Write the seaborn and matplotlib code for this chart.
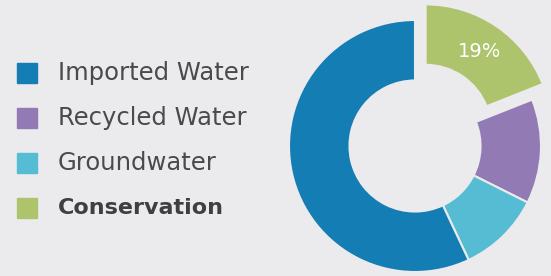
import matplotlib
matplotlib.use("Agg")
import matplotlib.pyplot as plt
import seaborn as sns
import numpy as np
from matplotlib.patches import Rectangle

categories = ["Conservation", "Recycled Water", "Groundwater", "Imported Water"]
values = [19, 13.4, 10.6, 57]
colors = ["#adc46c", "#927bb4", "#56bcd4", "#137db4"]
legend_order = ["Imported Water", "Recycled Water", "Groundwater", "Conservation"]
labeled = "Conservation"

bg = "#ebebed"
sns.set_theme(style="white")
plt.rcParams["font.family"] = ["DejaVu Sans"]

fig = plt.figure(figsize=(5.51, 2.76), dpi=100, facecolor=bg)
ax = fig.add_axes([289/551, 4/276, 252/551, 252/276])
ax.set_facecolor(bg)

explode = [0.15 if c == labeled else 0 for c in categories]
wedges, texts = ax.pie(
    values, colors=colors, startangle=90, counterclock=False,
    explode=explode, radius=1.0,
    wedgeprops=dict(width=0.48, edgecolor=bg, linewidth=1.5),
)
for w in wedges:
    w.set_clip_on(False)

i = categories.index(labeled)
w = wedges[i]
mid = np.deg2rad((w.theta1 + w.theta2) / 2)
cx, cy = w.center
r = 0.76
ax.text(cx + r * np.cos(mid), cy + r * np.sin(mid), f"{values[i]:.0f}%",
        color="white", fontsize=14, ha="center", va="center")

ax.set_xlim(-1, 1)
ax.set_ylim(-1, 1)
ax.set_aspect("equal")
ax.axis("off")

color_map = dict(zip(categories, colors))
for k, name in enumerate(legend_order):
    yc = 73 + 45 * k
    fig.patches.append(Rectangle((17/551, 1 - (yc + 10)/276), 20/551, 20/276,
                                 transform=fig.transFigure, color=color_map[name]))
    bold = name == "Conservation"
    fig.text(58/551, 1 - yc/276, name, fontsize=16 if bold else 17.5,
             color="#3f3f3f" if bold else "#4a4a4a",
             va="center", ha="left",
             fontweight="bold" if bold else "normal")

fig.savefig("out.png", dpi=100, facecolor=bg)
